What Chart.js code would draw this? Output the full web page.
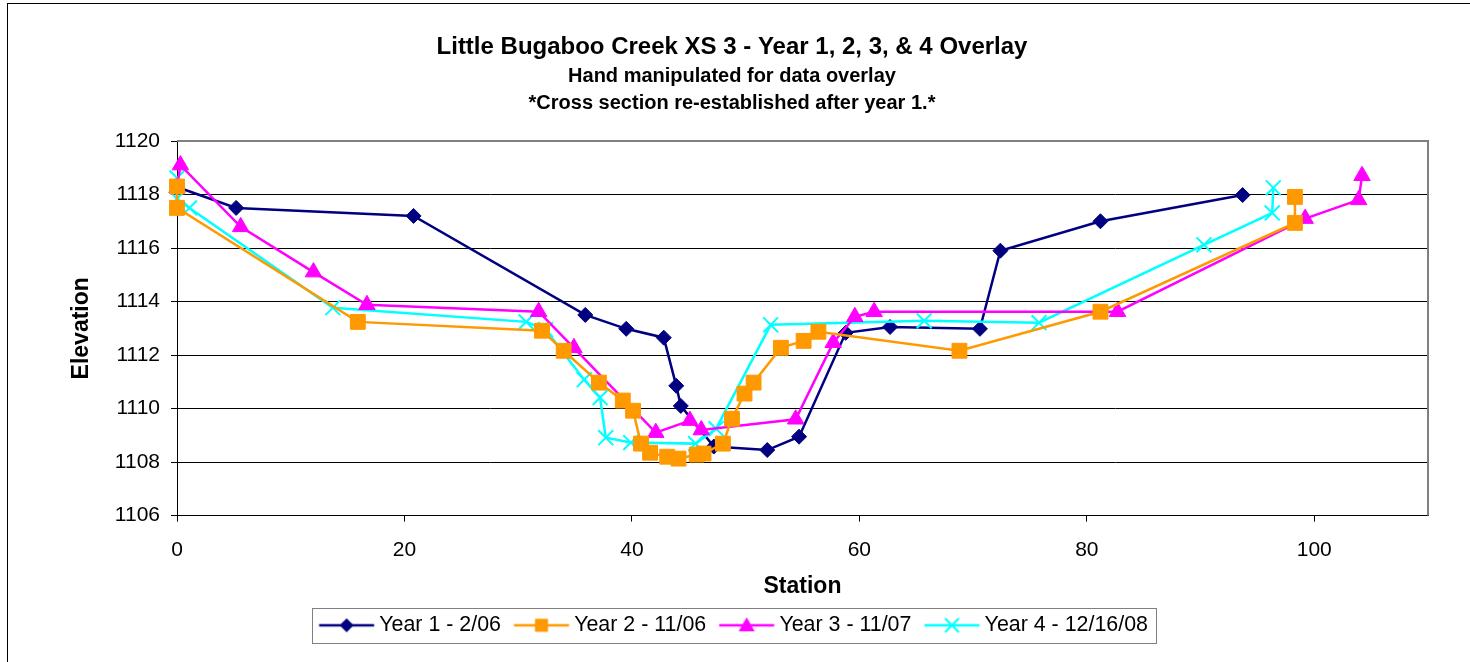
<!DOCTYPE html>
<html>
<head>
<meta charset="utf-8">
<title>Little Bugaboo Creek XS 3</title>
<script src="https://cdn.jsdelivr.net/npm/chart.js@4.4.1/dist/chart.umd.min.js"></script>
<style>
  html, body { margin: 0; padding: 0; background: #fff; overflow: hidden; }
  #wrap { position: relative; width: 1470px; height: 662px; }
  #frame { position: absolute; left: 7px; top: 3px; width: 1500px; height: 700px;
           border-left: 1px solid #000; border-top: 1px solid #000; }
  canvas { position: absolute; left: 0; top: 0; }
</style>
</head>
<body>
<div id="wrap">
  <div id="frame"></div>
  <canvas id="xs3" width="1470" height="662" style="width:1470px;height:662px"></canvas>
</div>
<script>
// axis ticks
const stationTicks = [0, 20, 40, 60, 80, 100];
const elevTicks = [1106, 1108, 1110, 1112, 1114, 1116, 1118, 1120];
const stationMax = 110;

const seriesNames = ['Year 1 - 2/06', 'Year 2 - 11/06', 'Year 3 - 11/07', 'Year 4 - 12/16/08'];
const seriesColors = ['#000080', '#FF9900', '#FF00FF', '#00FFFF'];

// station / elevation
const year1X = [0, 5.2, 20.8, 35.9, 39.5, 42.8, 43.9, 44.3, 47.2, 51.9, 54.7, 58.8, 62.7, 70.6, 72.4, 81.2, 93.7];
const year1Y = [1118.28, 1117.5, 1117.2, 1113.5, 1112.98, 1112.65, 1110.85, 1110.1, 1108.58, 1108.45, 1108.95, 1112.83, 1113.05, 1112.98, 1115.9, 1117.0, 1117.98];

const year2X = [0, 0, 15.9, 32.1, 34.0, 37.1, 39.2, 40.1, 40.8, 41.6, 43.1, 44.1, 45.7, 46.3, 48.0, 48.8, 49.9, 50.7, 53.1, 55.1, 56.4, 68.8, 81.2, 98.3, 98.3];
const year2Y = [1118.3, 1117.5, 1113.24, 1112.91, 1112.16, 1110.97, 1110.3, 1109.92, 1108.69, 1108.35, 1108.2, 1108.13, 1108.28, 1108.32, 1108.69, 1109.62, 1110.56, 1110.97, 1112.27, 1112.53, 1112.87, 1112.16, 1113.62, 1116.94, 1117.91];

const year3X = [0, 0.3, 5.6, 12.0, 16.7, 31.8, 34.9, 42.1, 45.1, 46.1, 54.4, 57.7, 59.6, 61.3, 82.7, 99.2, 103.9, 104.2];
const year3Y = [1118.25, 1119.1, 1116.79, 1115.1, 1113.88, 1113.62, 1112.27, 1109.1, 1109.55, 1109.2, 1109.6, 1112.46, 1113.43, 1113.62, 1113.62, 1117.1, 1117.8, 1118.7];

const year4X = [0, 0, 1.1, 13.7, 30.7, 32.4, 35.8, 37.2, 37.7, 39.9, 45.6, 47.4, 52.2, 65.7, 75.8, 90.3, 96.3, 96.4];
const year4Y = [1118.62, 1117.84, 1117.5, 1113.77, 1113.24, 1112.95, 1111.08, 1110.41, 1108.91, 1108.73, 1108.69, 1109.25, 1113.13, 1113.28, 1113.21, 1116.12, 1117.31, 1118.25];

const pts = (xs, ys) => xs.map((x, i) => ({x: x, y: ys[i]}));

Chart.defaults.font.family = '"Liberation Sans", Arial, sans-serif';
Chart.defaults.color = '#000';

// little line+marker pictures for the legend, Excel style
// box is 52.5 wide, picture 100 wide centred on it -> line starts 3px into the box
function legendIcon(color, kind) {
  const c = document.createElement('canvas');
  c.width = 100; c.height = 22;
  const g = c.getContext('2d');
  const x0 = 26.75, x1 = x0 + 55, cx = (x0 + x1) / 2, cy = 11;
  g.strokeStyle = color; g.fillStyle = color; g.lineWidth = 2.5;
  g.beginPath(); g.moveTo(x0, cy); g.lineTo(x1, cy); g.stroke();
  g.beginPath();
  if (kind === 'diamond') {
    g.moveTo(cx - 7, cy); g.lineTo(cx, cy - 7); g.lineTo(cx + 7, cy); g.lineTo(cx, cy + 7);
    g.closePath(); g.fill();
  } else if (kind === 'square') {
    g.rect(cx - 6.5, cy - 6.5, 13, 13); g.fill();
  } else if (kind === 'triangle') {
    g.moveTo(cx, cy - 8); g.lineTo(cx + 8, cy + 6); g.lineTo(cx - 8, cy + 6);
    g.closePath(); g.fill();
  } else {
    g.lineWidth = 2;
    g.moveTo(cx - 7, cy - 7); g.lineTo(cx + 7, cy + 7);
    g.moveTo(cx + 7, cy - 7); g.lineTo(cx - 7, cy + 7);
    g.stroke();
  }
  return c;
}
const legendIcons = [
  legendIcon(seriesColors[0], 'diamond'),
  legendIcon(seriesColors[1], 'square'),
  legendIcon(seriesColors[2], 'triangle'),
  legendIcon(seriesColors[3], 'cross')
];

const plotFrame = {
  id: 'plotFrame',
  beforeDatasetsDraw(chart) {
    const {ctx, chartArea: a} = chart;
    ctx.save();
    ctx.strokeStyle = '#808080';
    ctx.lineWidth = 2;
    ctx.beginPath();
    ctx.moveTo(a.left, a.top);
    ctx.lineTo(a.right, a.top);
    ctx.lineTo(a.right, a.bottom);
    ctx.stroke();
    ctx.restore();
  }
};

const legendFrame = {
  id: 'legendFrame',
  afterDraw(chart) {
    const boxes = chart.legend.legendHitBoxes;
    if (!boxes || !boxes.length) return;
    const ctx = chart.ctx;
    const first = boxes[0], last = boxes[boxes.length - 1];
    const x0 = Math.round(first.left + 3 - 7), x1 = Math.round(last.left + last.width + 8);
    const cy = first.top + first.height / 2;
    ctx.save();
    ctx.strokeStyle = '#808080';
    ctx.lineWidth = 1;
    ctx.strokeRect(x0 + 0.5, Math.round(cy - 17.5) + 0.5, x1 - x0, 35);
    ctx.restore();
  }
};

const lineSet = (i, xs, ys, style, radius, order) => ({
  label: seriesNames[i],
  data: pts(xs, ys),
  showLine: true,
  borderColor: seriesColors[i],
  backgroundColor: seriesColors[i],
  borderWidth: 2.5,
  pointStyle: style,
  pointRadius: radius,
  pointHoverRadius: radius,
  pointBackgroundColor: seriesColors[i],
  pointBorderColor: seriesColors[i],
  pointBorderWidth: style === 'crossRot' ? 2 : 1,
  clip: false,
  order: order
});

new Chart(document.getElementById('xs3'), {
  type: 'scatter',
  data: {
    datasets: [
      lineSet(0, year1X, year1Y, 'rectRot', 7.5, 4),
      lineSet(1, year2X, year2Y, 'rect', 10.5, 1),
      lineSet(2, year3X, year3Y, 'triangle', 9.5, 2),
      lineSet(3, year4X, year4Y, 'crossRot', 10.5, 3)
    ]
  },
  options: {
    responsive: false,
    animation: false,
    layout: { padding: { left: 0, right: 6, top: 0, bottom: 16 } },
    plugins: {
      title: {
        display: true,
        text: 'Little Bugaboo Creek XS 3 - Year 1, 2, 3, & 4 Overlay',
        font: { size: 24, weight: 'bold', lineHeight: 1.2 },
        color: '#000',
        padding: { top: 32.6, bottom: 0 }
      },
      subtitle: {
        display: true,
        text: ['Hand manipulated for data overlay', '*Cross section re-established after year 1.*'],
        font: { size: 20, weight: 'bold', lineHeight: 1.35 },
        color: '#000',
        padding: { top: 1.1, bottom: 24.5 }
      },
      legend: {
        position: 'bottom',
        labels: {
          usePointStyle: true,
          pointStyleWidth: 52.5,
          padding: 10,
          color: '#000',
          font: { size: 21.4 },
          sort: (a, b) => a.datasetIndex - b.datasetIndex,
          generateLabels: chart => chart.data.datasets.map((ds, i) => ({
            text: ds.label,
            datasetIndex: i,
            pointStyle: legendIcons[i],
            fillStyle: 'transparent',
            strokeStyle: 'transparent',
            lineWidth: 0,
            fontColor: '#000',
            hidden: false
          }))
        }
      },
      tooltip: { enabled: false }
    },
    scales: {
      x: {
        type: 'linear',
        min: stationTicks[0],
        max: stationMax,
        afterBuildTicks: s => { s.ticks = stationTicks.map(v => ({value: v})); },
        afterFit: s => { s.height = 89; },
        ticks: { font: { size: 21 }, color: '#000', padding: 16, callback: v => v, maxRotation: 0 },
        grid: { drawOnChartArea: false, drawTicks: true, tickLength: 6, color: '#000' },
        border: { display: true, color: '#000', width: 1 },
        title: {
          display: true, text: 'Station',
          font: { size: 23, weight: 'bold', lineHeight: 1.2 },
          color: '#000', padding: { top: 0, bottom: 4.2 }
        }
      },
      y: {
        type: 'linear',
        position: 'left',
        min: elevTicks[0],
        max: elevTicks[elevTicks.length - 1],
        afterBuildTicks: s => { s.ticks = elevTicks.map(v => ({value: v})); },
        afterFit: s => { s.width = 177; },
        ticks: { font: { size: 21 }, color: '#000', padding: 11, callback: v => v },
        grid: {
          color: c => (c.tick && c.tick.value === elevTicks[elevTicks.length - 1]) ? 'rgba(0,0,0,0)' : '#000',
          tickColor: '#000',
          lineWidth: 1,
          tickLength: 6
        },
        border: { display: true, color: '#000', width: 1 },
        title: {
          display: true, text: 'Elevation',
          font: { size: 23, weight: 'bold', lineHeight: 1.2 },
          color: '#000', padding: { top: 68.2, bottom: 0 }
        }
      },
      yRight: {
        type: 'linear',
        position: 'right',
        display: true,
        min: elevTicks[0],
        max: elevTicks[elevTicks.length - 1],
        afterFit: s => { s.width = 36; },
        ticks: { display: false },
        grid: { display: false, drawTicks: false },
        border: { display: false }
      }
    }
  },
  plugins: [plotFrame, legendFrame]
});
</script>
</body>
</html>
